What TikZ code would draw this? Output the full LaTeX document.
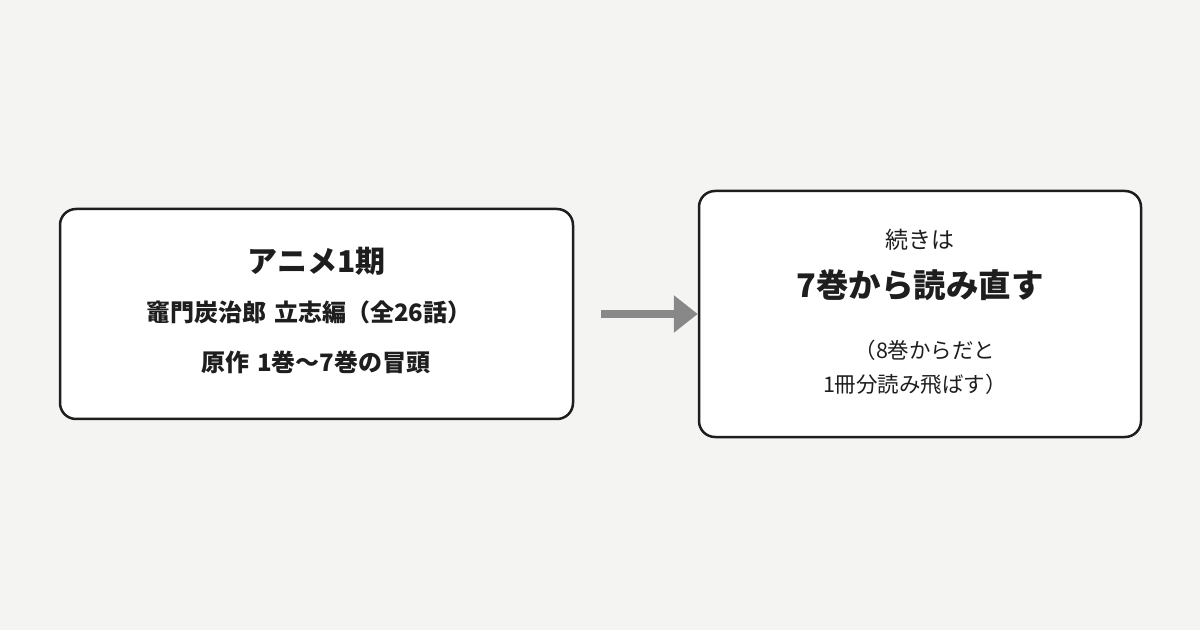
\documentclass[tikz,border=0pt]{standalone}
\usepackage{fontspec}
\setmainfont{Noto Sans CJK JP}
\usetikzlibrary{arrows.meta}
\definecolor{bg}{HTML}{F4F4F2}
\definecolor{ink}{HTML}{1E1E1E}
\definecolor{arrowgray}{HTML}{888888}
\tikzset{
  box/.style={draw=ink, line width=2.5pt, fill=white, rounded corners=16pt, inner sep=0pt},
  txt/.style={text=ink, inner sep=0pt, anchor=center},
  conn/.style={draw=arrowgray, line width=8pt, -{Triangle[length=24pt,width=36pt]}}
}
\begin{document}
\begin{tikzpicture}[x=1pt,y=1pt]
\fill[bg] (0,0) rectangle (1200,630);
\useasboundingbox (0,0) rectangle (1200,630);
\node[box, minimum width=513pt, minimum height=210pt] (left) at (316.5,316) {};
\node[box, minimum width=442pt, minimum height=246pt] (right) at (920,316) {};
\node[txt, font=\fontsize{30}{35}\selectfont\bfseries] (l1) at (316.5,369) {アニメ1期};
\node[txt, font=\fontsize{24}{28}\selectfont\bfseries] (l2) at (309,318) {竈門炭治郎\hspace{0.1em} 立志編（全26話）};
\node[txt, font=\fontsize{24}{28}\selectfont\bfseries] (l3) at (316,268) {原作\hspace{0.1em} 1巻〜7巻の冒頭};
\node[txt, font=\fontsize{23}{27}\selectfont] (r1) at (920,390) {続きは};
\node[txt, font=\fontsize{32.5}{38}\selectfont\bfseries] (r2) at (920,345) {7巻から読み直す};
\node[txt, font=\fontsize{21.5}{25}\selectfont] (r3) at (925,280) {（8巻からだと};
\node[txt, font=\fontsize{21.5}{25}\selectfont] (r4) at (915,246) {1冊分読み飛ばす）};
\draw[conn] ([xshift=27pt]left.east) -- (right.west);
\end{tikzpicture}
\end{document}
